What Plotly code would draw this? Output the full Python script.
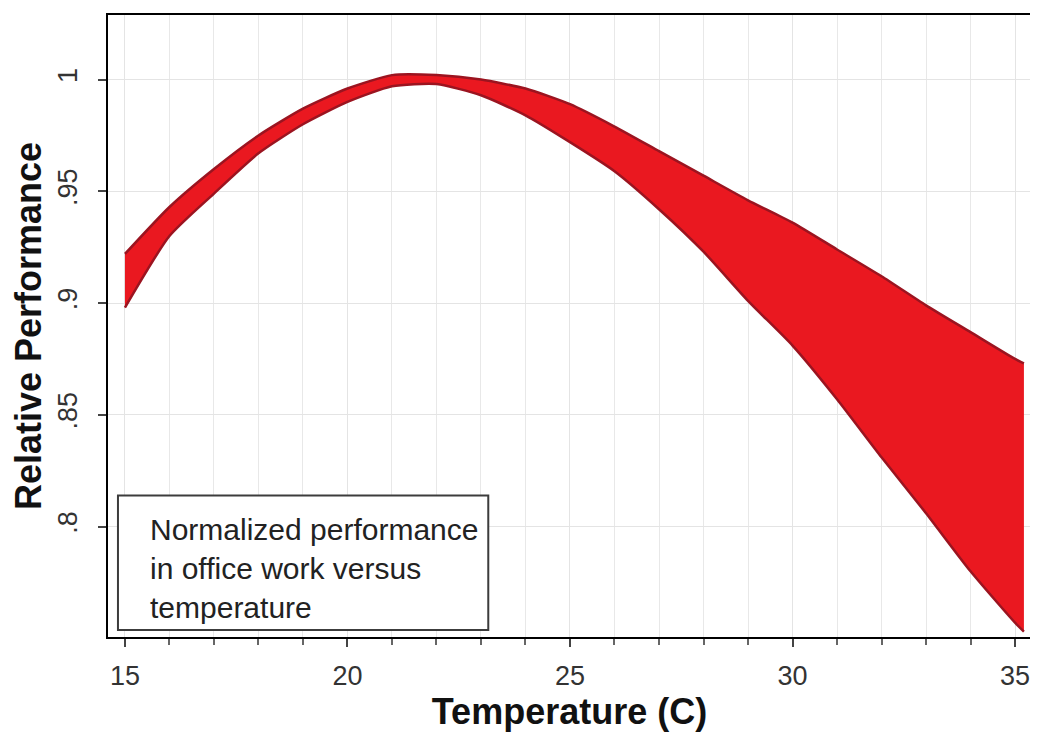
import plotly.graph_objects as go

# Data
temperature = [15, 16, 17, 18, 19, 20, 21, 22, 23, 24, 25, 26, 27, 28, 29, 30, 31, 32, 33, 34, 35, 35.2]
upper_perf = [0.922, 0.943, 0.960, 0.975, 0.987, 0.996, 1.002, 1.002, 1.000, 0.996, 0.989, 0.979,
              0.968, 0.957, 0.946, 0.936, 0.924, 0.912, 0.899, 0.887, 0.875, 0.873]
lower_perf = [0.898, 0.930, 0.949, 0.967, 0.980, 0.990, 0.997, 0.998, 0.993, 0.984, 0.972, 0.959,
              0.942, 0.923, 0.901, 0.881, 0.857, 0.831, 0.806, 0.780, 0.757, 0.753]

x_tick_vals = [15, 20, 25, 30, 35]
y_tick_vals = [0.8, 0.85, 0.9, 0.95, 1.0]
y_tick_text = [".8", ".85", ".9", ".95", "1"]

legend_text = "Normalized performance<br>in office work versus<br>temperature"

band_fill = "rgb(234,24,32)"
band_edge = "rgb(155,20,32)"

fig = go.Figure()
fig.add_trace(go.Scatter(
    x=temperature, y=lower_perf, mode="lines",
    line=dict(color=band_edge, width=2.5, shape="spline", smoothing=0.6),
    showlegend=False, hoverinfo="skip"))
fig.add_trace(go.Scatter(
    x=temperature, y=upper_perf, mode="lines", fill="tonexty", fillcolor=band_fill,
    line=dict(color=band_edge, width=2.5, shape="spline", smoothing=0.6),
    showlegend=False, hoverinfo="skip"))

# page body adds an 8px offset; size the figure so the plot area lands where the reference has it
fig.update_layout(
    width=1030, height=728,
    margin=dict(l=100, r=5, t=5, b=99),
    paper_bgcolor="white", plot_bgcolor="white",
    font=dict(family="Liberation Sans, Arial, sans-serif", color="#222"),
)

fig.update_xaxes(
    range=[14.619, 35.359],
    tickvals=x_tick_vals,
    ticks="outside", ticklen=8, tickwidth=1.5, tickcolor="#444",
    tickfont=dict(size=27, color="#333"),
    ticklabelstandoff=6,
    showgrid=True, gridcolor="rgb(228,228,228)", gridwidth=1,
    minor=dict(dtick=1, tick0=15, ticks="outside", ticklen=6, tickcolor="#666",
               showgrid=True, gridcolor="rgb(232,232,232)", gridwidth=1),
    showline=True, linecolor="black", linewidth=2, mirror=True,
    zeroline=False,
    title=dict(text="<b>Temperature (C)</b>", font=dict(size=36, color="#111"), standoff=0),
)
fig.update_yaxes(
    range=[0.7506, 1.0289],
    tickvals=y_tick_vals, ticktext=y_tick_text, tickangle=-90,
    ticks="outside", ticklen=8, tickwidth=1.5, tickcolor="#444",
    tickfont=dict(size=27, color="#333"),
    ticklabelstandoff=10,
    showgrid=True, gridcolor="rgb(228,228,228)", gridwidth=1,
    showline=True, linecolor="black", linewidth=2, mirror=True,
    zeroline=False,
    title=dict(text="<b>Relative Performance</b>", font=dict(size=36, color="#111"), standoff=12),
)

fig.add_shape(type="rect", xref="paper", yref="paper",
              x0=0.0108, x1=0.412, y0=0.0112, y1=0.2276,
              line=dict(color="rgb(60,60,60)", width=2), fillcolor="white", layer="above")
fig.add_annotation(xref="paper", yref="paper", x=0.0432, y=0.1106,
                   xanchor="left", yanchor="middle", align="left",
                   text=legend_text, showarrow=False,
                   font=dict(size=30, color="#222", family="Liberation Sans, Arial, sans-serif"))

fig.write_html("out.html")
